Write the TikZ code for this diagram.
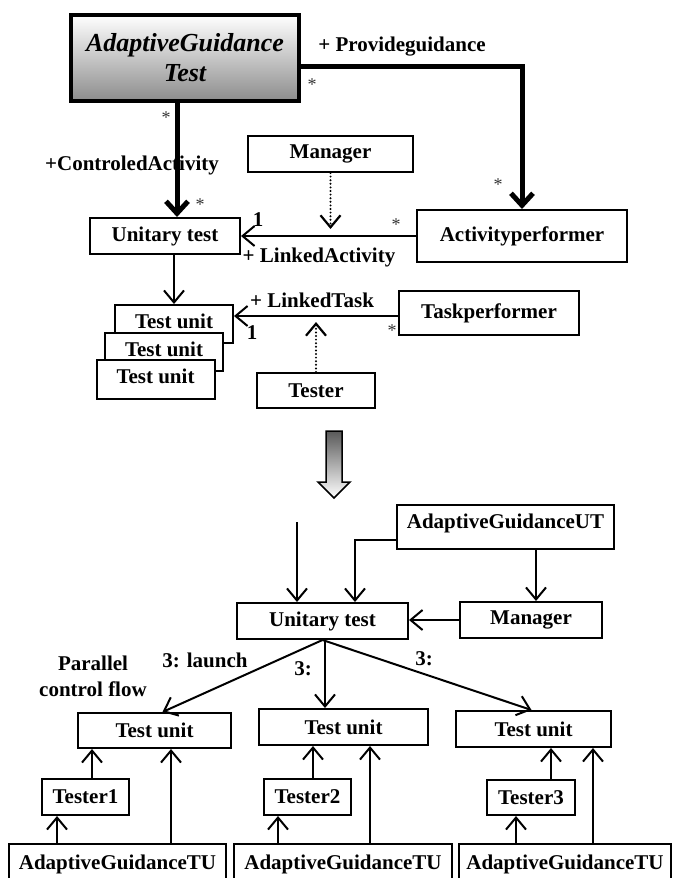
\documentclass[tikz,border=0pt]{standalone}
\usepackage{fontspec}
\setmainfont{Liberation Serif}
\usetikzlibrary{
    arrows.meta,            % Straight Barb arrow tips.
    positioning             % Relative positioning of nodes.
}

\begin{document}
\begin{tikzpicture}[x=1pt, y=-1pt,
        font=\fontsize{21}{24}\selectfont\bfseries,
        box/.style={draw, line width=2pt, fill=white, inner sep=0pt},
        stack/.style={box, minimum width=118pt, text height=23pt, text depth=15pt},
        flow/.style={line width=2pt, -{Straight Barb[length=12pt, width=20pt]}},
        heavy/.style={line width=5pt, -{Straight Barb[length=12pt, width=22pt]}},
        depend/.style={line width=2.2pt, line cap=round, dash pattern=on 0pt off 3.6pt,
            -{Straight Barb[length=12pt, width=20pt]}},
        mult/.style={font=\fontsize{18}{18}\selectfont, text=black!80}
    ]
                \useasboundingbox (0,0) rectangle (672,878);
                % class diagram
                \node[box, line width=4pt, minimum width=228pt, minimum height=86pt,
                    top color=white, bottom color=black!45, align=center,
                    font=\fontsize{26}{30}\selectfont\bfseries\itshape]
                    (agt) at (185,58) {AdaptiveGuidance\\Test};
                \node[box, minimum width=165pt, minimum height=36pt] (mgr) at (330.5,154) {Manager};
                \node[box, minimum width=150pt, minimum height=36pt] (ut) at (165,236) {Unitary test};
                \node[box, minimum width=210pt, minimum height=52pt] (ap) at (522,236) {Activityperformer};
                \node[box, minimum width=180pt, minimum height=44pt] (tp) at (489,313) {Taskperformer};
                \node[stack] (tua) at (174,324) {Test unit};
                \node[stack] (tub) at (164,352) {Test unit};
                \node[stack, text depth=16pt] (tuc) at (155.5,379.5) {Test unit};
                \node[box, minimum width=118pt, minimum height=35pt] (tstr) at (316,390.5) {Tester};
                \node (pg) at (402,47) {+ Provideguidance};
                \node (ca) at (132,165) {+ControledActivity};
                \node (la) at (319,257) {+ LinkedActivity};
                \node (lt) at (312,300) {+ LinkedTask};
                \node (onea) at (258,220) {1};
                \node (oneb) at (252,333) {1};
                \node[mult] (sa) at (166,118) {*};
                \node[mult] (sb) at (200,205) {*};
                \node[mult] (sc) at (312,85) {*};
                \node[mult] (sd) at (498,185) {*};
                \node[mult] (se) at (396,225) {*};
                \node[mult] (sf) at (392,331) {*};
                \draw[heavy] (agt.south -| 177,0) to (ut.north -| 177,0);
                \draw[heavy] ([yshift=-8pt]agt.east) -| (ap.north);
                \draw[flow] (ap.west) to (ap.west -| ut.east);
                \draw[depend, shorten >=7pt] (mgr.south) to (mgr.south |- ap.west);
                \draw[flow] (ut.south -| tua.north) to (tua.north);
                \draw[flow] ([yshift=-3pt]tp.west) to ([yshift=-3pt]tp.west -| tua.east);
                \draw[depend, shorten >=9pt] (tstr.north) to (tstr.north |- tp.west);
                % transformation
                \shade[draw, line width=1.5pt, top color=black!65, bottom color=white]
                    (326,431) -- (342,431) -- (342,482) -- (350,482) -- (334,498)
                    -- (318,482) -- (326,482) -- cycle;
                % execution model
                \node[box, minimum width=217pt, text height=23pt, text depth=21pt] (agut) at (505.5,527) {AdaptiveGuidanceUT};
                \node[box, minimum width=171pt, minimum height=36pt] (ut2) at (322.5,621) {Unitary test};
                \node[box, minimum width=142pt, minimum height=36pt] (mgr2) at (531,620) {Manager};
                \node[box, minimum width=153pt, minimum height=35pt] (tu1) at (154.5,730.5) {Test unit};
                \node[box, minimum width=169pt, minimum height=36pt] (tu2) at (343.5,727) {Test unit};
                \node[box, minimum width=155pt, minimum height=36pt] (tu3) at (533.5,729) {Test unit};
                \node[box, minimum width=87pt, minimum height=36pt] (tstr1) at (85.5,797) {Tester1};
                \node[box, minimum width=87pt, minimum height=36pt] (tstr2) at (307.5,797) {Tester2};
                \node[box, minimum width=88pt, minimum height=35pt] (tstr3) at (531,797.5) {Tester3};
                \node[box, anchor=north west, minimum width=217pt, text height=25pt, text depth=18pt]
                    (agtu1) at (8,843) {AdaptiveGuidanceTU};
                \node[box, anchor=north west, minimum width=218pt, text height=25pt, text depth=18pt]
                    (agtu2) at (233,843) {AdaptiveGuidanceTU};
                \node[box, anchor=north west, minimum width=212pt, text height=25pt, text depth=18pt]
                    (agtu3) at (458,843) {AdaptiveGuidanceTU};
                \node (launch) at (205,660) {3: launch};
                \node (lb) at (303,669) {3:};
                \node (lc) at (424,659) {3:};
                \node[align=center, font=\fontsize{21}{26}\selectfont\bfseries] (par) at (93,676) {Parallel\\control flow};
                \coordinate (entry) at (297,522);
                \draw[flow] (entry) to (entry |- ut2.north);
                \draw[flow] ([yshift=-13pt]agut.west) -| (ut2.north -| 355,0);
                \draw[flow] (agut.south -| 536,0) to (mgr2.north -| 536,0);
                \draw[flow] (mgr2.west) to (mgr2.west -| ut2.east);
                \draw[flow] (ut2.south) to ([xshift=8pt]tu1.north);
                \draw[flow] (ut2.south -| 325,0) to (tu2.north -| 325,0);
                \draw[flow] (ut2.south) to ([xshift=-2pt]tu3.north);
                \draw[flow] (agtu1.north -| 57,0) to (tstr1.south -| 57,0);
                \draw[flow] (tstr1.north -| 92,0) to (tu1.south -| 92,0);
                \draw[flow] (agtu1.north -| 171,0) to (tu1.south -| 171,0);
                \draw[flow] (agtu2.north -| 278,0) to (tstr2.south -| 278,0);
                \draw[flow] (tstr2.north -| 313,0) to (tu2.south -| 313,0);
                \draw[flow] (agtu2.north -| 370,0) to (tu2.south -| 370,0);
                \draw[flow] (agtu3.north -| 516,0) to (tstr3.south -| 516,0);
                \draw[flow] (tstr3.north -| 551,0) to (tu3.south -| 551,0);
                \draw[flow] (agtu3.north -| 593,0) to (tu3.south -| 593,0);
\end{tikzpicture}
\end{document}
